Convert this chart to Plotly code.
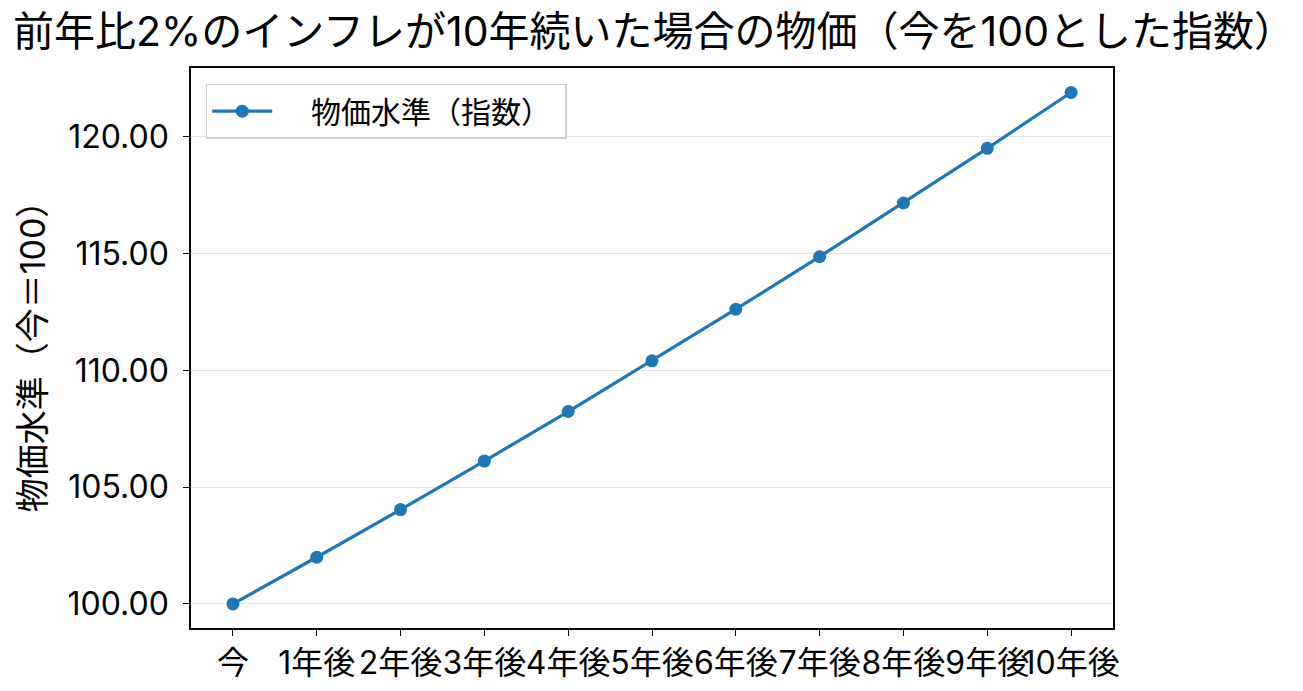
import plotly.graph_objects as go

labels = ["今", "1年後", "2年後", "3年後", "4年後", "5年後", "6年後", "7年後", "8年後", "9年後", "10年後"]
values = [100.00, 102.00, 104.04, 106.12, 108.24, 110.41, 112.62, 114.87, 117.17, 119.51, 121.90]
yticks = [100, 105, 110, 115, 120]

FONT = "Inter, Noto Sans CJK JP"
x_idx = list(range(len(labels)))

fig = go.Figure()
fig.add_trace(go.Scatter(
    x=x_idx, y=values, mode="lines+markers", name="\u00a0\u00a0\u00a0\u00a0物価水準（指数）\u00a0",
    line=dict(color="#1f77b4", width=3.2), marker=dict(size=13, color="#1f77b4"),
))
fig.update_layout(
    width=1303, height=691,
    margin=dict(l=191, r=190, t=68, b=63),
    paper_bgcolor="white", plot_bgcolor="white",
    font=dict(family=FONT, color="black", size=32),
    title=dict(text="前年比2%のインフレが10年続いた場合の物価（今を100とした指数）",
               x=0.010, xanchor="left", y=0.954, yanchor="middle",
               font=dict(size=41, family=FONT)),
    showlegend=True,
    legend=dict(x=0.016, y=0.972, xanchor="left", yanchor="top",
                bordercolor="#d0d0d0", borderwidth=1.5, bgcolor="white",
                font=dict(size=30, family=FONT), itemwidth=60),
)
fig.update_xaxes(
    tickmode="array", tickvals=x_idx, ticktext=labels, range=[-0.5, 10.5],
    showline=True, linecolor="black", linewidth=1.5, mirror=True,
    ticks="outside", ticklen=6, tickcolor="black", showgrid=False,
    tickfont=dict(size=32, family=FONT), zeroline=False, tickangle=0,
    automargin=False,
)
fig.update_yaxes(
    tickmode="array", tickvals=yticks, ticktext=[f"{v:.2f}" for v in yticks],
    range=[98.97, 122.95],
    showline=True, linecolor="black", linewidth=1.5, mirror=True,
    ticks="outside", ticklen=6, tickcolor="black",
    showgrid=True, gridcolor="#e6e6e6", gridwidth=1.2, zeroline=False,
    title=dict(text="物価水準（今＝100）", font=dict(size=34, family=FONT), standoff=12),
    tickfont=dict(size=32, family=FONT), ticklabelstandoff=8,
    automargin=False,
)
fig.write_html("out.html")
